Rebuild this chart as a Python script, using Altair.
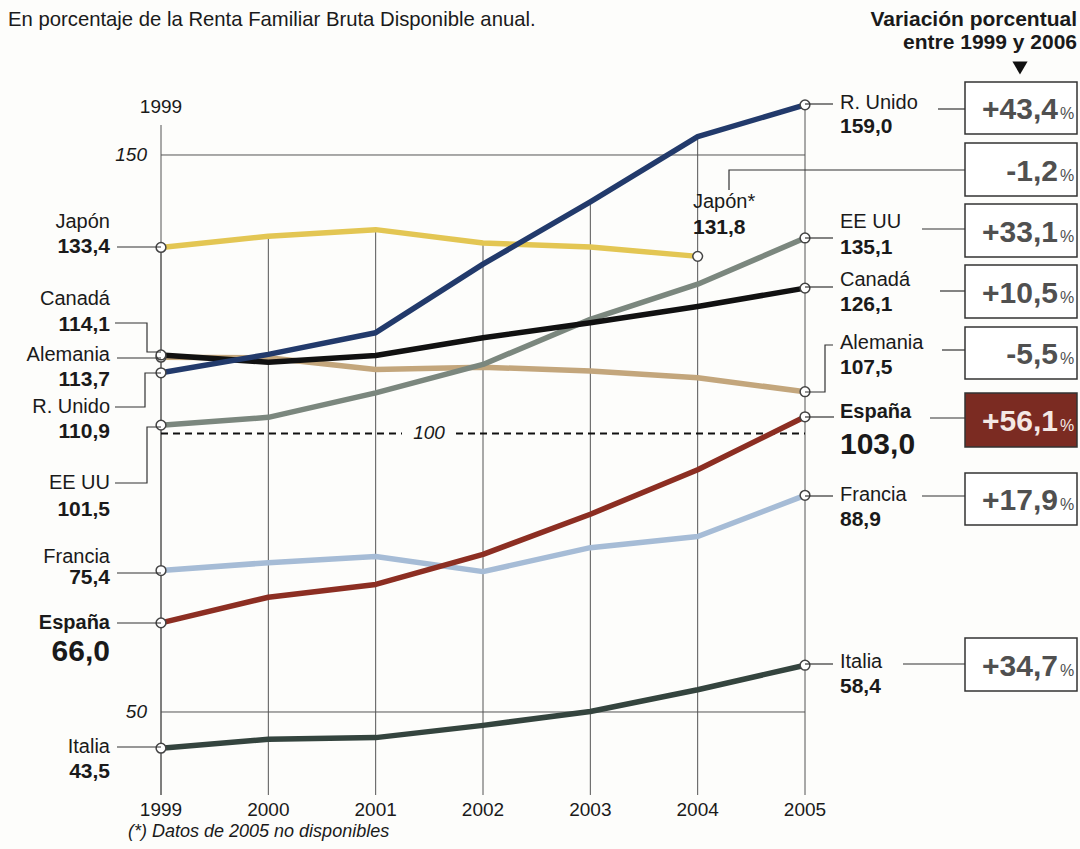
import altair as alt
import pandas as pd

# ---------------- data ----------------
years = [1999, 2000, 2001, 2002, 2003, 2004, 2005]
countries = ["Japón", "Alemania", "EE UU", "Francia", "Italia", "España", "Canadá", "R. Unido"]
japon    = [133.4, 135.4, 136.6, 134.2, 133.5, 131.8, None]
alemania = [113.7, 113.6, 111.5, 111.9, 111.2, 110.0, 107.5]
ee_uu    = [101.5, 102.9, 107.3, 112.4, 120.5, 126.8, 135.1]
francia  = [75.4, 76.8, 77.9, 75.2, 79.5, 81.5, 88.9]
italia   = [43.5, 45.1, 45.4, 47.6, 50.1, 54.0, 58.4]
espana   = [66.0, 70.6, 72.9, 78.3, 85.5, 93.5, 103.0]
canada   = [114.1, 112.8, 114.0, 117.2, 119.9, 122.8, 126.1]
r_unido  = [110.9, 114.2, 118.1, 130.4, 141.6, 153.3, 159.0]
series = [japon, alemania, ee_uu, francia, italia, espana, canada, r_unido]
variacion = {"R. Unido": "+43,4", "Japón": "-1,2", "EE UU": "+33,1", "Canadá": "+10,5",
             "Alemania": "-5,5", "España": "+56,1", "Francia": "+17,9", "Italia": "+34,7"}
y_ticks = [150, 50]

# ---------------- styles ----------------
colors = ["#e3c653", "#c3a67c", "#7b877e", "#a6bcd6", "#34443e", "#8c2e22", "#111111", "#223a6b"]
FONT = "Liberation Sans"
W, H = 1080, 849

def fmt(v):
    return f"{v:.1f}".replace(".", ",")

rows = []
for c, vals in zip(countries, series):
    for yr, v in zip(years, vals):
        if v is not None:
            rows.append({"country": c, "year": yr, "value": v})
df = pd.DataFrame(rows)

ends = []
for c, vals in zip(countries, series):
    valid = [(yr, v) for yr, v in zip(years, vals) if v is not None]
    ends.append({"country": c, "year": valid[0][0], "value": valid[0][1]})
    ends.append({"country": c, "year": valid[-1][0], "value": valid[-1][1]})
ends_df = pd.DataFrame(ends)
first = {c: vals[0] for c, vals in zip(countries, series)}
last = {c: [v for v in vals if v is not None][-1] for c, vals in zip(countries, series)}

# scales mapped so that the layout is pixel exact over the full canvas
xs = alt.Scale(domain=[1997.5, 2007.5621], nice=False, zero=False)
ys = alt.Scale(domain=[25.404, 177.827], nice=False, zero=False)

# ---------------- layout (pixels) ----------------
left_layout = {
    "Japón":    (222, 247, [(117, 247), (161, 247)]),
    "Canadá":   (299, 325, [(115, 323), (147, 323), (147, 352), (161, 352)]),
    "Alemania": (355, 380, [(117, 358), (161, 358)]),
    "R. Unido": (407, 432, [(115, 407), (145, 407), (145, 373), (161, 373)]),
    "EE UU":    (483, 510, [(115, 483), (147, 483), (147, 427), (161, 427)]),
    "Francia":  (557, 578, [(117, 573), (161, 573)]),
    "España":   (623, 652, [(117, 623), (161, 623)]),
    "Italia":   (747, 772, [(117, 747), (161, 747)]),
}
right_layout = {
    "R. Unido": (840, 103, 127, [(805, 104), (833, 104)], [(938, 109), (965, 109)], (82, 134)),
    "Japón":    (693, 202, 228, [(729, 190), (729, 170), (965, 170)], None, (143, 196)),
    "EE UU":    (840, 222, 248, [(805, 238), (833, 238)], [(922, 229), (965, 229)], (204, 257)),
    "Canadá":   (840, 280, 305, [(805, 287), (833, 287)], [(940, 291), (965, 291)], (265, 318)),
    "Alemania": (840, 343, 368, [(805, 392), (825, 392), (825, 345), (833, 345)], [(942, 350), (965, 350)], (327, 379)),
    "España":   (840, 412, 445, [(805, 417), (834, 417)], [(930, 418), (965, 418)], (393, 447)),
    "Francia":  (840, 495, 520, [(805, 496), (833, 496)], [(922, 496), (965, 496)], (473, 525)),
    "Italia":   (840, 662, 687, [(805, 664), (833, 664)], [(903, 664), (965, 664)], (638, 691)),
}

def px_text(rows, **kw):
    d = pd.DataFrame(rows, columns=["t", "px", "py"])
    base = dict(font=FONT, fontSize=20, color="#1a1a1a", baseline="middle")
    base.update(kw)
    return alt.Chart(d).mark_text(**base).encode(
        x=alt.X("px:Q", scale=None, axis=None),
        y=alt.Y("py:Q", scale=None, axis=None),
        text="t:N")

layers = []

# vertical grid lines: from top-most series value at each year down to bottom
layers.append(alt.Chart(df).transform_aggregate(top="max(value)", groupby=["year"]).mark_rule(
    color="#555", strokeWidth=1).encode(
    x=alt.X("year:Q", scale=xs, axis=None),
    y=alt.Y("top:Q", scale=ys, axis=None),
    y2=alt.value(795)))
layers.append(alt.Chart(pd.DataFrame({"year": [1999]})).mark_rule(color="#555", strokeWidth=1).encode(
    x=alt.X("year:Q", scale=xs, axis=None), y=alt.value(125), y2=alt.value(795)))

# horizontal grid at 150 / 50
gl = pd.DataFrame({"v": y_ticks})
layers.append(alt.Chart(gl).mark_rule(color="#555", strokeWidth=1).encode(
    y=alt.Y("v:Q", scale=ys, axis=None), x=alt.value(161), x2=alt.value(805)))
layers.append(alt.Chart(gl).mark_text(font=FONT, fontSize=19, fontStyle="italic", align="right",
                                      baseline="middle", color="#1a1a1a").encode(
    y=alt.Y("v:Q", scale=ys, axis=None), x=alt.value(147), text=alt.Text("v:Q")))

# dashed 100 line
hundred = pd.DataFrame({"v": [100]})
for a, b in [(161, 402), (456, 805)]:
    layers.append(alt.Chart(hundred).mark_rule(color="#111", strokeWidth=2, strokeDash=[7, 5]).encode(
        y=alt.Y("v:Q", scale=ys, axis=None), x=alt.value(a), x2=alt.value(b)))
layers.append(alt.Chart(hundred).mark_text(font=FONT, fontSize=19, fontStyle="italic",
                                           baseline="middle", color="#1a1a1a").encode(
    y=alt.Y("v:Q", scale=ys, axis=None), x=alt.value(429), text=alt.Text("v:Q")))

# series lines
layers.append(alt.Chart(df).mark_line(strokeWidth=5.5, strokeJoin="round", strokeCap="butt").encode(
    x=alt.X("year:Q", scale=xs, axis=None),
    y=alt.Y("value:Q", scale=ys, axis=None),
    color=alt.Color("country:N", scale=alt.Scale(domain=countries, range=colors), legend=None),
    order="year:Q"))

# end points
layers.append(alt.Chart(ends_df).mark_point(shape="circle", filled=True, fill="white", stroke="#444",
                                            strokeWidth=1.5, size=95, opacity=1).encode(
    x=alt.X("year:Q", scale=xs, axis=None),
    y=alt.Y("value:Q", scale=ys, axis=None)))

# leader lines
lead = []
k = 0
for c, (_, _, pts) in left_layout.items():
    for i, (x, y) in enumerate(pts):
        lead.append({"id": k, "o": i, "x": x, "y": y})
    k += 1
for c, (_, _, _, pts, bpts, _) in right_layout.items():
    for p in (pts, bpts):
        if p:
            for i, (x, y) in enumerate(p):
                lead.append({"id": k, "o": i, "x": x, "y": y})
            k += 1
layers.append(alt.Chart(pd.DataFrame(lead)).mark_line(color="#333", strokeWidth=1.2).encode(
    x=alt.X("x:Q", scale=None, axis=None), y=alt.Y("y:Q", scale=None, axis=None),
    detail="id:N", order="o:Q"))

# boxes
boxes = []
for c, (_, _, _, _, _, (y0, y1)) in right_layout.items():
    boxes.append({"c": c, "x0": 965, "x1": 1077, "y0": y0, "y1": y1,
                  "fill": "#7b2b22" if c == "España" else "#ffffff"})
layers.append(alt.Chart(pd.DataFrame(boxes)).mark_rect(stroke="#333", strokeWidth=1.5).encode(
    x=alt.X("x0:Q", scale=None, axis=None), x2="x1:Q",
    y=alt.Y("y0:Q", scale=None, axis=None), y2="y1:Q",
    fill=alt.Fill("fill:N", scale=None)))

# box texts
box_main, box_pct, box_main_w, box_pct_w = [], [], [], []
for c, (_, _, _, _, _, (y0, y1)) in right_layout.items():
    yb = (y0 + y1) / 2 + 11
    if c == "España":
        box_main_w.append((variacion[c], 1058, yb)); box_pct_w.append(("%", 1060, yb))
    else:
        box_main.append((variacion[c], 1058, yb)); box_pct.append(("%", 1060, yb))
layers.append(px_text(box_main, fontSize=30, fontWeight="bold", align="right",
                      baseline="alphabetic", color="#505050"))
layers.append(px_text(box_main_w, fontSize=30, fontWeight="bold", align="right",
                      baseline="alphabetic", color="#f4e8e4"))
layers.append(px_text(box_pct, fontSize=16, align="left", baseline="alphabetic", color="#505050"))
layers.append(px_text(box_pct_w, fontSize=16, align="left", baseline="alphabetic", color="#f4e8e4"))

# left labels
names_l, vals_l, bold_names_l, big_vals_l = [], [], [], []
for c, (ny, vy, _) in left_layout.items():
    if c == "España":
        bold_names_l.append((c, 110, ny)); big_vals_l.append((fmt(first[c]), 110, vy))
    else:
        names_l.append((c, 110, ny)); vals_l.append((fmt(first[c]), 110, vy))
layers.append(px_text(names_l, align="right"))
layers.append(px_text(vals_l, align="right", fontWeight="bold", fontSize=21))
layers.append(px_text(bold_names_l, align="right", fontWeight="bold"))
layers.append(px_text(big_vals_l, align="right", fontWeight="bold", fontSize=30))

# right labels
names_r, vals_r, bold_names_r, big_vals_r = [], [], [], []
for c, (x, ny, vy, _, _, _) in right_layout.items():
    nm = "Japón*" if c == "Japón" else c
    if c == "España":
        bold_names_r.append((nm, x, ny)); big_vals_r.append((fmt(last[c]), x, vy))
    else:
        names_r.append((nm, x, ny)); vals_r.append((fmt(last[c]), x, vy))
layers.append(px_text(names_r, align="left"))
layers.append(px_text(vals_r, align="left", fontWeight="bold", fontSize=21))
layers.append(px_text(bold_names_r, align="left", fontWeight="bold"))
layers.append(px_text(big_vals_r, align="left", fontWeight="bold", fontSize=30))

# year labels
yrs = pd.DataFrame({"year": years})
layers.append(alt.Chart(yrs).mark_text(font=FONT, fontSize=19, baseline="middle", color="#1a1a1a").encode(
    x=alt.X("year:Q", scale=xs, axis=None), y=alt.value(810), text=alt.Text("year:Q", format="d")))
layers.append(alt.Chart(pd.DataFrame({"year": [1999]})).mark_text(
    font=FONT, fontSize=19, baseline="middle", color="#1a1a1a").encode(
    x=alt.X("year:Q", scale=xs, axis=None), y=alt.value(107), text=alt.Text("year:Q", format="d")))

# titles and notes
layers.append(px_text([("En porcentaje de la Renta Familiar Bruta Disponible anual.", 8, 20)],
                      align="left", fontSize=20.3))
layers.append(px_text([("Variación porcentual", 1077, 20), ("entre 1999 y 2006", 1077, 43)],
                      align="right", fontWeight="bold", fontSize=21))
layers.append(px_text([("(*) Datos de 2005 no disponibles", 128, 832)], align="left",
                      fontStyle="italic", fontSize=18))
layers.append(alt.Chart(pd.DataFrame({"px": [1020], "py": [68]})).mark_point(
    shape="triangle-down", filled=True, color="#111", size=230, opacity=1).encode(
    x=alt.X("px:Q", scale=None, axis=None), y=alt.Y("py:Q", scale=None, axis=None)))

chart = alt.layer(*layers).resolve_scale(x="independent", y="independent").properties(
    width=W, height=H, padding=0, autosize="none", background="#fdfdfb"
).configure_view(stroke=None)

chart.save("out.html", embed_options={"renderer": "svg", "actions": False})
